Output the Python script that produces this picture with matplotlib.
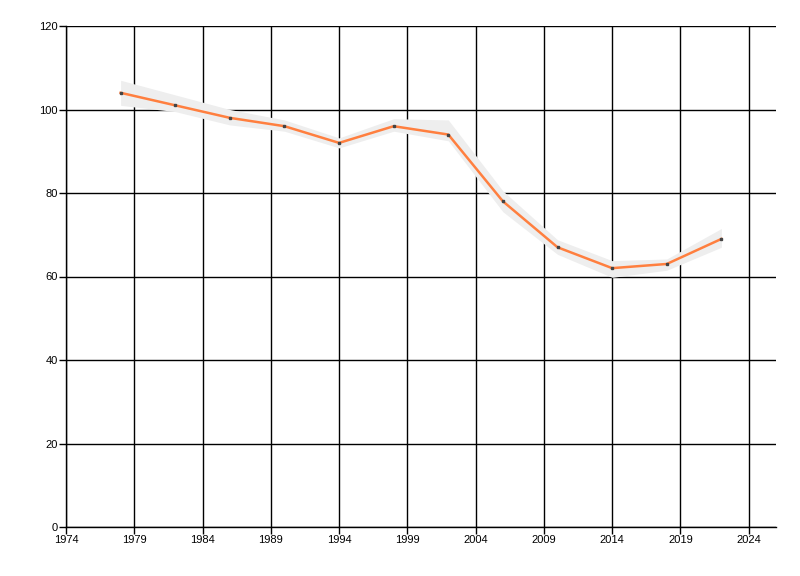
import matplotlib
matplotlib.use("Agg")
import matplotlib.pyplot as plt

years = [1978, 1982, 1986, 1990, 1994, 1998, 2002, 2006, 2010, 2014, 2018, 2022]
values = [104, 101, 98, 96, 92, 96, 94, 78, 67, 62, 63, 69]
band_upper = [107, 103.5, 100, 97.5, 93.2, 97.8, 97.5, 80.5, 68.8, 63.8, 64.2, 71.5]
band_lower = [101, 99.5, 96.3, 94.8, 90.8, 94.8, 92.5, 75.5, 65.3, 59.8, 61.5, 67.0]
x_ticks = [1974, 1979, 1984, 1989, 1994, 1999, 2004, 2009, 2014, 2019, 2024]
y_ticks = [0, 20, 40, 60, 80, 100, 120]

plt.rcParams['font.family'] = ['Liberation Sans', 'DejaVu Sans']
fig = plt.figure(figsize=(8, 5.76), dpi=100)
ax = fig.add_axes([66/800, 49/576, 710/800, 501/576])

ax.fill_between(years, band_lower, band_upper, color='#EEEEEE', linewidth=0, zorder=2)
ax.plot(years, values, color='#FF7F3F', linewidth=1.8, zorder=3)
ax.plot(years, values, linestyle='none', marker='s', markersize=2,
        color='#444444', zorder=4)

ax.set_xlim(1974, 2026)
ax.set_ylim(0, 120)
ax.set_xticks(x_ticks)
ax.set_yticks(y_ticks)
ax.grid(True, color='black', linewidth=1.0, zorder=1)
ax.set_axisbelow(True)
for s in ['top', 'right']:
    ax.spines[s].set_visible(False)
for s in ['left', 'bottom']:
    ax.spines[s].set_color('black')
    ax.spines[s].set_linewidth(1.0)
ax.tick_params(axis='both', length=5, width=1, labelsize=8, colors='black', pad=1)

fig.savefig('out.png', dpi=100)
